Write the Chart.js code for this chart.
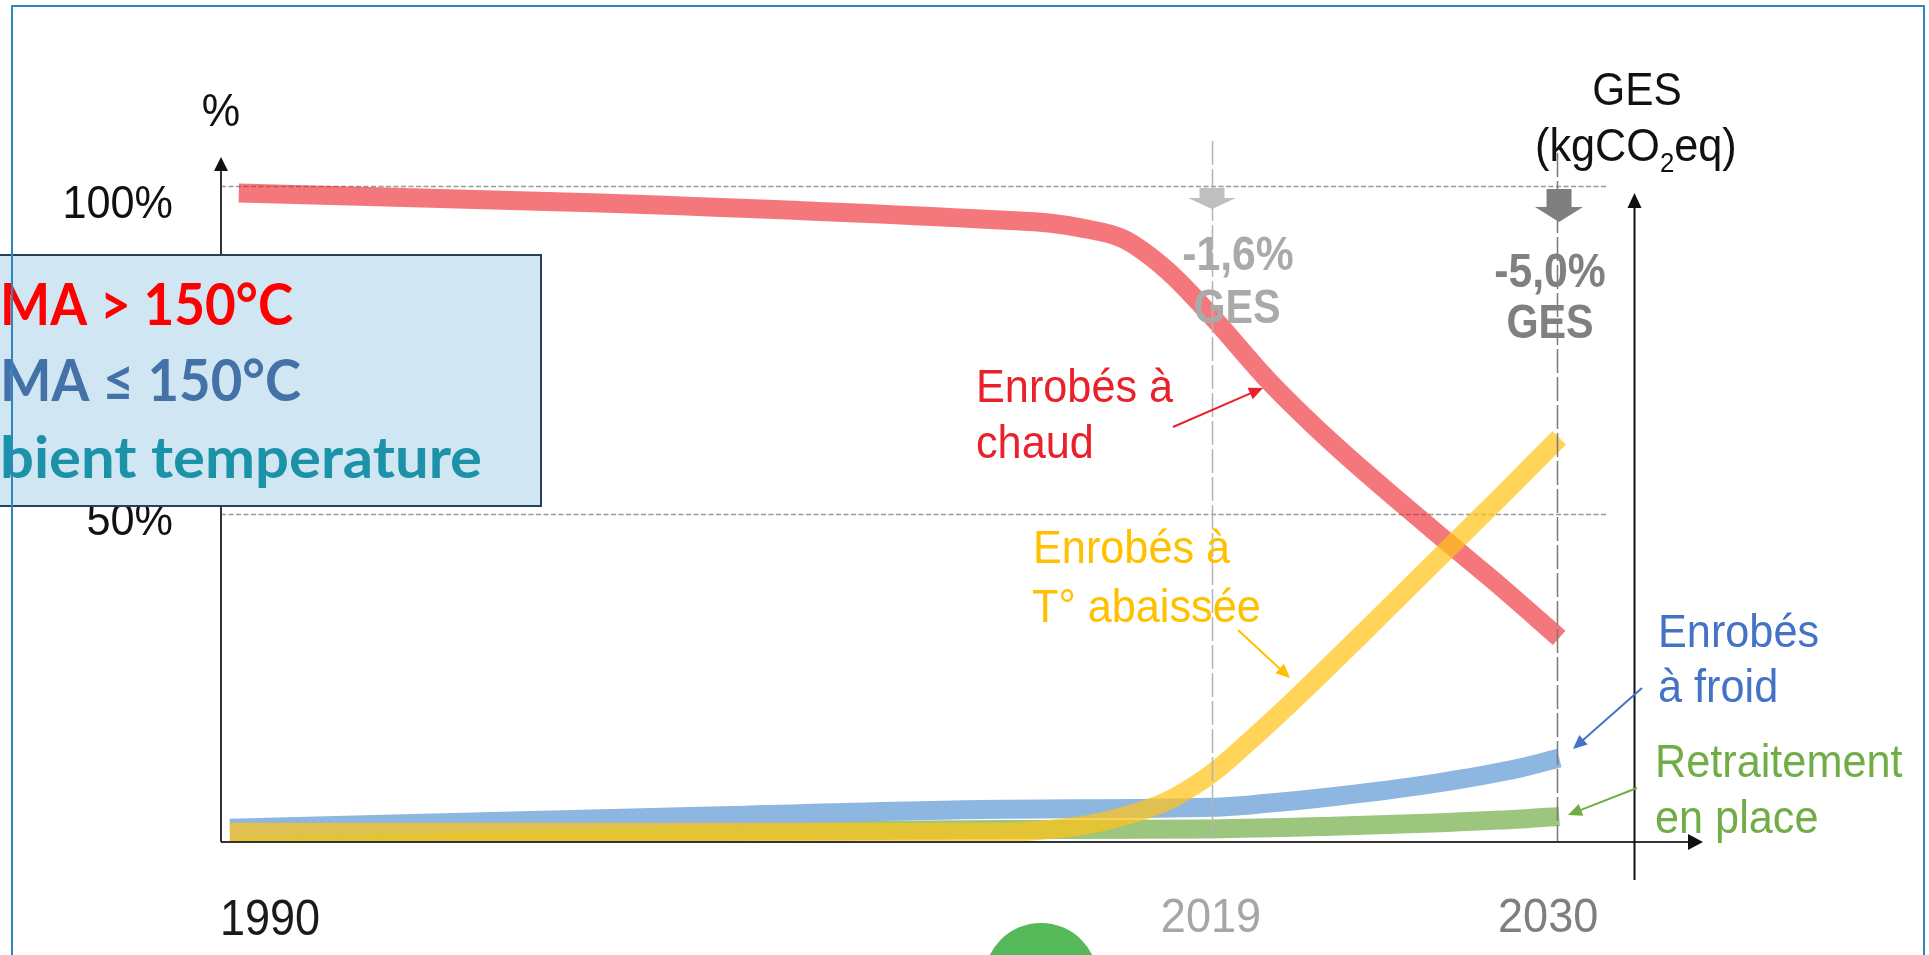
<!DOCTYPE html>
<html>
<head>
<meta charset="utf-8">
<script src="https://cdn.jsdelivr.net/npm/chart.js@4.4.1/dist/chart.umd.min.js"></script>
<style>
  html, body { margin: 0; padding: 0; background: #fff; overflow: hidden; }
  canvas { display: block; }
</style>
</head>
<body>
<canvas id="chart" width="1929" height="955"></canvas>
<script>
// Schematic time axis: 0 = vertical axis, 100 = tip of the horizontal arrow
const xTickLabels = ['1990', '2019', '2030'];
const xTickPos = [0, 66.8, 89.55];
const yTickLabels = ['50%', '100%'];
const yTickValues = [50, 100];
const markerPos = [66.87, 90.15];          // 2019 and 2030 reference lines
const gesLabels = ['-1,6%', '-5,0%'];

// Enrobés à chaud (share of production, %)
const hotPos = [1.2, 25.6, 52.6, 56.0, 58.0, 60.9, 63.8, 66.9, 70.6, 75.0, 81.8, 86.3, 90.3];
const hotShare = [98.9, 97.4, 94.8, 94.3, 93.6, 91.9, 87.2, 80.0, 70.5, 60.8, 47.5, 39.0, 31.1];

// Enrobés à T° abaissée
const warmPos = [0.6, 33.7, 52.6, 55.3, 58.6, 61.5, 63.8, 65.6, 66.9, 70.1, 72.8, 77.3, 81.5, 86.3, 90.3];
const warmShare = [1.5, 1.5, 1.5, 1.8, 2.7, 4.3, 6.2, 8.5, 10.5, 16.8, 22.5, 32.4, 41.8, 52.5, 61.6];

// Enrobés à froid
const coldPos = [0.6, 33.7, 52.6, 66.9, 70.6, 75.0, 81.8, 87.7, 90.3];
const coldShare = [2.1, 4.0, 5.0, 5.3, 5.9, 6.9, 8.9, 11.3, 12.8];

// Retraitement en place
const recyPos = [0.6, 33.7, 52.6, 66.9, 75.0, 81.8, 87.7, 90.3];
const recyShare = [1.5, 1.6, 1.9, 2.0, 2.4, 2.9, 3.5, 3.9];

function series(pos, share) {
  return pos.map(function (x, i) { return { x: x, y: share[i] }; });
}

const SANS = '"Liberation Sans", Arial, sans-serif';

// text squeezed horizontally, like the narrow lettering of the original slide
function label(ctx, str, x, y, font, color, align, sx) {
  sx = sx || 0.92;
  ctx.save();
  ctx.font = font;
  ctx.fillStyle = color;
  ctx.textBaseline = 'alphabetic';
  ctx.textAlign = 'left';
  var w = ctx.measureText(str).width * sx;
  var left = x;
  if (align === 'center') left = x - w / 2;
  else if (align === 'right') left = x - w;
  ctx.translate(left, y);
  ctx.scale(sx, 1);
  ctx.fillText(str, 0, 0);
  ctx.restore();
  return w;
}

// text stretched to a given width
function fitLabel(ctx, str, x, y, font, color, width) {
  ctx.save();
  ctx.font = font;
  var sx = width / ctx.measureText(str).width;
  ctx.restore();
  return label(ctx, str, x, y, font, color, 'left', sx);
}

function arrow(ctx, x1, y1, x2, y2, color, lw, head) {
  var a = Math.atan2(y2 - y1, x2 - x1);
  var c = Math.cos(a), s = Math.sin(a);
  ctx.save();
  ctx.strokeStyle = color;
  ctx.fillStyle = color;
  ctx.lineWidth = lw;
  ctx.setLineDash([]);
  ctx.beginPath();
  ctx.moveTo(x1, y1);
  ctx.lineTo(x2 - c * head * 0.8, y2 - s * head * 0.8);
  ctx.stroke();
  ctx.beginPath();
  ctx.moveTo(x2, y2);
  ctx.lineTo(x2 - head * c + head * 0.45 * s, y2 - head * s - head * 0.45 * c);
  ctx.lineTo(x2 - head * c - head * 0.45 * s, y2 - head * s + head * 0.45 * c);
  ctx.closePath();
  ctx.fill();
  ctx.restore();
}

function blockArrow(ctx, cx, top, shaftH, shaftW, headW, headH, color) {
  ctx.save();
  ctx.fillStyle = color;
  ctx.fillRect(cx - shaftW / 2, top, shaftW, shaftH);
  ctx.beginPath();
  ctx.moveTo(cx - headW / 2, top + shaftH);
  ctx.lineTo(cx + headW / 2, top + shaftH);
  ctx.lineTo(cx, top + shaftH + headH);
  ctx.closePath();
  ctx.fill();
  ctx.restore();
}

const decorations = {
  id: 'decorations',
  beforeDatasetsDraw: function (chart) {
    var ctx = chart.ctx, xs = chart.scales.x, ys = chart.scales.y;
    var left = xs.getPixelForValue(0);
    var right = xs.getPixelForValue(93.6);
    ctx.save();
    ctx.strokeStyle = '#9a9a9a';
    ctx.lineWidth = 1.5;
    ctx.setLineDash([5, 2.5]);
    yTickValues.forEach(function (v) {
      var y = Math.round(ys.getPixelForValue(v)) + 0.5;
      ctx.beginPath();
      ctx.moveTo(left, y);
      ctx.lineTo(right, y);
      ctx.stroke();
    });
    ctx.restore();
  },
  afterDatasetsDraw: function (chart) {
    var ctx = chart.ctx, xs = chart.scales.x, ys = chart.scales.y;
    var area = chart.chartArea;
    var x0 = xs.getPixelForValue(0);
    var y0 = ys.getPixelForValue(0);

    // 2019 / 2030 reference lines
    var markerColors = ['#b4b4b4', '#7a7a7a'];
    var markerTops = [141, 153];
    ctx.save();
    ctx.lineWidth = 1.5;
    ctx.setLineDash([24, 4]);
    markerPos.forEach(function (p, i) {
      var x = Math.round(xs.getPixelForValue(p)) + 0.5;
      ctx.strokeStyle = markerColors[i];
      ctx.beginPath();
      ctx.moveTo(x, markerTops[i]);
      ctx.lineTo(x, y0);
      ctx.stroke();
    });
    ctx.restore();

    // axes
    ctx.save();
    ctx.strokeStyle = '#333';
    ctx.fillStyle = '#111';
    ctx.lineWidth = 2;
    ctx.beginPath();
    ctx.moveTo(x0, y0);
    ctx.lineTo(x0, area.top + 12);
    ctx.stroke();
    ctx.beginPath();
    ctx.moveTo(x0, area.top);
    ctx.lineTo(x0 - 7, area.top + 14);
    ctx.lineTo(x0 + 7, area.top + 14);
    ctx.closePath();
    ctx.fill();

    ctx.beginPath();
    ctx.moveTo(x0, y0);
    ctx.lineTo(area.right - 12, y0);
    ctx.stroke();
    ctx.beginPath();
    ctx.moveTo(area.right, y0);
    ctx.lineTo(area.right - 15, y0 - 8);
    ctx.lineTo(area.right - 15, y0 + 8);
    ctx.closePath();
    ctx.fill();

    // GES axis on the right
    var gx = Math.round(xs.getPixelForValue(95.34)) + 0.5;
    ctx.lineWidth = 2;
    ctx.strokeStyle = '#111';
    ctx.beginPath();
    ctx.moveTo(gx, 880);
    ctx.lineTo(gx, 205);
    ctx.stroke();
    ctx.beginPath();
    ctx.moveTo(gx, 193);
    ctx.lineTo(gx - 7, 208);
    ctx.lineTo(gx + 7, 208);
    ctx.closePath();
    ctx.fill();
    ctx.restore();

    // tick labels
    var tickColors = ['#1a1a1a', '#a6a6a6', '#7f7f7f'];
    xTickLabels.forEach(function (t, i) {
      var x = xs.getPixelForValue(xTickPos[i]);
      if (i === 0) label(ctx, t, x - 1, 935, '50px ' + SANS, tickColors[i], 'left', 0.9);
      else label(ctx, t, x, 932, '49px ' + SANS, tickColors[i], 'center');
    });
    var yLabelBase = [535, 218];
    yTickLabels.forEach(function (t, i) {
      label(ctx, t, 173, yLabelBase[i], '47px ' + SANS, '#111', 'right');
    });
    label(ctx, '%', x0, 126, '47px ' + SANS, '#111', 'center');

    // GES header
    label(ctx, 'GES', 1637, 105, '46px ' + SANS, '#111', 'center');
    var cx = 1535;
    cx += label(ctx, '(kgCO', cx, 161, '47px ' + SANS, '#111', 'left');
    cx += label(ctx, '2', cx, 172, '28px ' + SANS, '#111', 'left');
    label(ctx, 'eq)', cx, 161, '47px ' + SANS, '#111', 'left');

    // GES reductions
    blockArrow(ctx, xs.getPixelForValue(markerPos[0]), 188, 10, 25, 48, 11, '#bfbfbf');
    blockArrow(ctx, xs.getPixelForValue(markerPos[1]) + 2, 189, 18, 25, 48, 15, '#7f7f7f');
    label(ctx, gesLabels[0], 1238, 270, 'bold 48px ' + SANS, '#aaaaaa', 'center', 0.89);
    label(ctx, 'GES', 1237, 323, 'bold 48px ' + SANS, '#aaaaaa', 'center', 0.86);
    label(ctx, gesLabels[1], 1550, 287, 'bold 48px ' + SANS, '#808080', 'center', 0.89);
    label(ctx, 'GES', 1550, 338, 'bold 48px ' + SANS, '#808080', 'center', 0.86);

    // series annotations
    label(ctx, 'Enrobés à', 976, 402, '47px ' + SANS, '#e8212a', 'left');
    label(ctx, 'chaud', 976, 458, '47px ' + SANS, '#e8212a', 'left');
    arrow(ctx, 1173, 427, 1263, 388, '#e8212a', 2, 14);

    label(ctx, 'Enrobés à', 1033, 563, '47px ' + SANS, '#ffc000', 'left');
    label(ctx, 'T° abaissée', 1032, 622, '47px ' + SANS, '#ffc000', 'left');
    arrow(ctx, 1238, 630, 1290, 678, '#ffc000', 2, 14);

    label(ctx, 'Enrobés', 1658, 647, '47px ' + SANS, '#4472c4', 'left');
    label(ctx, 'à froid', 1658, 702, '47px ' + SANS, '#4472c4', 'left');
    arrow(ctx, 1642, 688, 1573, 749, '#4472c4', 2, 14);

    label(ctx, 'Retraitement', 1655, 777, '47px ' + SANS, '#70ad47', 'left');
    label(ctx, 'en place', 1655, 833, '47px ' + SANS, '#70ad47', 'left');
    arrow(ctx, 1637, 788, 1568, 815, '#70ad47', 2, 14);

    // overlay box of the slide
    ctx.save();
    ctx.fillStyle = '#d0e6f3';
    ctx.fillRect(-4, 255, 545, 251);
    ctx.strokeStyle = '#27415c';
    ctx.lineWidth = 2;
    ctx.strokeRect(-4, 255, 545, 251);
    ctx.restore();
    fitLabel(ctx, 'MA > 150°C', 0, 325, 'bold 57px Lato, "Open Sans", sans-serif', '#ff0000', 293);
    fitLabel(ctx, 'MA ≤ 150°C', 0, 401, 'bold 57px Lato, "Open Sans", sans-serif', '#4472a8', 301);
    fitLabel(ctx, 'bient temperature', 0, 478, 'bold 57px Lato, "Open Sans", sans-serif', '#1b92a8', 482);

    // green disc at the bottom of the slide
    ctx.save();
    ctx.fillStyle = '#55b95a';
    ctx.beginPath();
    ctx.arc(1041, 980, 57, 0, Math.PI * 2);
    ctx.fill();
    // slide frame
    ctx.strokeStyle = '#2e86c1';
    ctx.lineWidth = 2;
    ctx.strokeRect(12, 6, 1912, 1000);
    ctx.restore();
  }
};

new Chart(document.getElementById('chart').getContext('2d'), {
  type: 'line',
  data: {
    datasets: [
      { label: 'Enrobés à T° abaissée', data: series(warmPos, warmShare), borderColor: 'rgba(255,195,25,0.72)' },
      { label: 'Enrobés à chaud', data: series(hotPos, hotShare), borderColor: 'rgba(237,28,36,0.6)' },
      { label: 'Enrobés à froid', data: series(coldPos, coldShare), borderColor: '#8db6e0' },
      { label: 'Retraitement en place', data: series(recyPos, recyShare), borderColor: '#9cc67e' },
    ],
  },
  options: {
    responsive: false,
    animation: false,
    layout: { padding: { left: 221, right: 226, top: 157, bottom: 113 } },
    elements: {
      line: { borderWidth: 19, cubicInterpolationMode: 'monotone', borderCapStyle: 'butt', fill: false },
      point: { radius: 0, hoverRadius: 0 },
    },
    scales: {
      x: { type: 'linear', min: 0, max: 100, display: false },
      y: { min: 0, max: 104.4, display: false },
    },
    plugins: { legend: { display: false }, tooltip: { enabled: false } },
  },
  plugins: [decorations],
});
</script>
</body>
</html>
